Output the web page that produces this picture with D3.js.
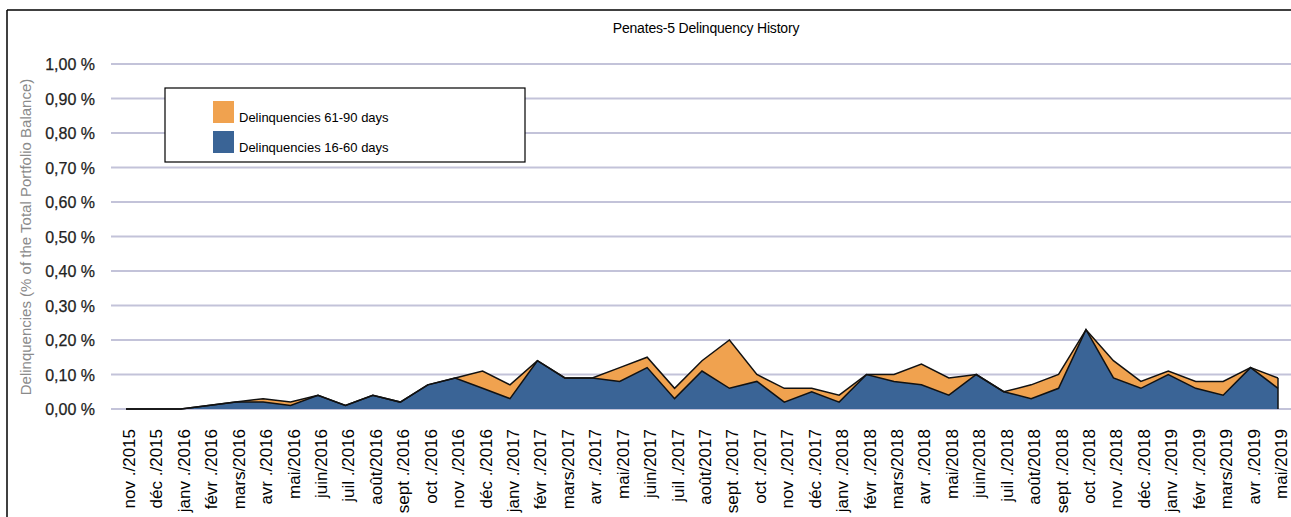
<!DOCTYPE html>
<html>
<head>
<meta charset="utf-8">
<script src="https://cdn.jsdelivr.net/npm/d3@7"></script>
<style>
  body { margin: 0; background: #fff; }
  svg { display: block; font-family: "Liberation Sans", Arial, sans-serif; }
</style>
</head>
<body>
<div id="chart"></div>
<script>
// month labels, nov 2015 -> mai 2019
var months = [
  "nov ./2015", "déc ./2015",
  "janv ./2016", "févr ./2016", "mars/2016", "avr ./2016", "mai/2016", "juin/2016",
  "juil ./2016", "août/2016", "sept ./2016", "oct ./2016", "nov ./2016", "déc ./2016",
  "janv ./2017", "févr ./2017", "mars/2017", "avr ./2017", "mai/2017", "juin/2017",
  "juil ./2017", "août/2017", "sept ./2017", "oct ./2017", "nov ./2017", "déc ./2017",
  "janv ./2018", "févr ./2018", "mars/2018", "avr ./2018", "mai/2018", "juin/2018",
  "juil ./2018", "août/2018", "sept ./2018", "oct ./2018", "nov ./2018", "déc ./2018",
  "janv ./2019", "févr ./2019", "mars/2019", "avr ./2019", "mai/2019"
];

// values in % of total portfolio balance
var delinq16to60 = [
  0, 0, 0, 0.01, 0.02, 0.02, 0.01, 0.04, 0.01, 0.04, 0.02, 0.07, 0.09, 0.06, 0.03,
  0.14, 0.09, 0.09, 0.08, 0.12, 0.03, 0.11, 0.06, 0.08, 0.02, 0.05, 0.02, 0.10, 0.08,
  0.07, 0.04, 0.10, 0.05, 0.03, 0.06, 0.23, 0.09, 0.06, 0.10, 0.06, 0.04, 0.12, 0.06
];
var delinq61to90 = [
  0, 0, 0, 0, 0, 0.01, 0.01, 0, 0, 0, 0, 0, 0, 0.05, 0.04,
  0, 0, 0, 0.04, 0.03, 0.03, 0.03, 0.14, 0.02, 0.04, 0.01, 0.02, 0, 0.02,
  0.06, 0.05, 0, 0, 0.04, 0.04, 0, 0.05, 0.02, 0.01, 0.02, 0.04, 0, 0.03
];

var yTicks = [0, 0.1, 0.2, 0.3, 0.4, 0.5, 0.6, 0.7, 0.8, 0.9, 1.0];

var seriesNames = ["Delinquencies 61-90 days", "Delinquencies 16-60 days"];
var blueColor = "#3a6496";
var orangeColor = "#f0a24f";

const W = 1291, H = 517;

const svg = d3.select("#chart").append("svg")
  .attr("width", W).attr("height", H);

// outer frame (top + left only visible)
svg.append("line").attr("x1", 7).attr("y1", 10).attr("x2", W).attr("y2", 10)
  .attr("stroke", "#000").attr("stroke-width", 1.5);
svg.append("line").attr("x1", 7).attr("y1", 10).attr("x2", 7).attr("y2", H)
  .attr("stroke", "#000").attr("stroke-width", 1.5);

svg.append("text")
  .attr("x", 706).attr("y", 33)
  .attr("text-anchor", "middle")
  .attr("font-size", "14px")
  .attr("letter-spacing", "-0.2px")
  .attr("fill", "#000")
  .text("Penates-5 Delinquency History");

const x = d3.scalePoint().domain(d3.range(months.length)).range([126, 1278]);
const y = d3.scaleLinear().domain([0, 1.0]).range([409, 64]);

// gridlines
svg.append("g").selectAll("line").data(yTicks).join("line")
  .attr("x1", 111).attr("x2", W)
  .attr("y1", d => y(d)).attr("y2", d => y(d))
  .attr("stroke", "#c3c3d9").attr("stroke-width", 2);

// y tick labels
const fmt = d => d.toFixed(2).replace(".", ",") + " %";
svg.append("g").selectAll("text").data(yTicks).join("text")
  .attr("x", 95).attr("y", d => y(d) + 6)
  .attr("text-anchor", "end")
  .attr("font-size", "16px")
  .attr("fill", "#222")
  .attr("stroke", "#222").attr("stroke-width", 0.25)
  .text(fmt);

// y axis title
svg.append("text")
  .attr("transform", "translate(31,237) rotate(-90)")
  .attr("text-anchor", "middle")
  .attr("font-size", "15px")
  .attr("fill", "#8a8a8a")
  .text("Delinquencies (% of the Total Portfolio Balance)");

// stacked areas
const idx = d3.range(months.length);
const total = idx.map(i => delinq16to60[i] + delinq61to90[i]);

const area = d3.area()
  .x(i => x(i));

svg.append("path")
  .datum(idx)
  .attr("d", area.y0(i => y(delinq16to60[i])).y1(i => y(total[i])))
  .attr("fill", orangeColor);

svg.append("path")
  .datum(idx)
  .attr("d", area.y0(y(0)).y1(i => y(delinq16to60[i])))
  .attr("fill", blueColor);

const line = d3.line().x(i => x(i));

svg.append("path")
  .datum(idx)
  .attr("d", line.y(i => y(total[i])))
  .attr("fill", "none").attr("stroke", "#111").attr("stroke-width", 1.5);

svg.append("path")
  .datum(idx)
  .attr("d", line.y(i => y(delinq16to60[i])))
  .attr("fill", "none").attr("stroke", "#111").attr("stroke-width", 1.5);

// closing edge at the last month
const last = months.length - 1;
svg.append("line")
  .attr("x1", x(last)).attr("x2", x(last))
  .attr("y1", y(total[last])).attr("y2", y(0))
  .attr("stroke", "#111").attr("stroke-width", 1.5);

// x labels, rotated
svg.append("g").selectAll("text").data(idx).join("text")
  .attr("transform", i => `translate(${x(i) + 9},429) rotate(-90)`)
  .attr("text-anchor", "end")
  .attr("font-size", "17px")
  .attr("fill", "#000")
  .text(i => months[i]);

// legend
const legend = svg.append("g");
legend.append("rect")
  .attr("x", 165).attr("y", 88).attr("width", 360).attr("height", 74)
  .attr("fill", "#fff").attr("stroke", "#000").attr("stroke-width", 1.2);

const legendColors = [orangeColor, blueColor];
legend.selectAll("g.item").data(seriesNames).join("g")
  .attr("class", "item")
  .each(function (d, k) {
    const g = d3.select(this);
    g.append("rect")
      .attr("x", 213).attr("y", 101 + k * 30)
      .attr("width", 21).attr("height", 22)
      .attr("fill", legendColors[k]);
    g.append("text")
      .attr("x", 239).attr("y", 122 + k * 30)
      .attr("font-size", "13px")
      .attr("fill", "#000")
      .text(d);
  });
</script>
</body>
</html>
